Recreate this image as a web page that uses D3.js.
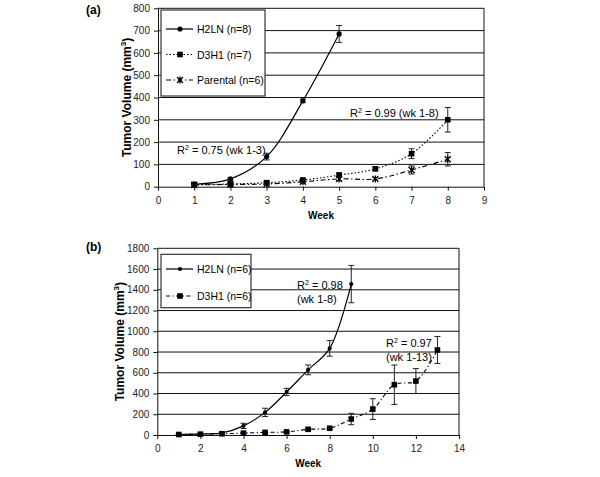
<!DOCTYPE html>
<html>
<head>
<meta charset="utf-8">
<script src="https://cdn.jsdelivr.net/npm/d3@7/dist/d3.min.js"></script>
<style>
  body { margin: 0; background: #fff; }
  svg { font-family: "Liberation Sans", Arial, sans-serif; }
  .tick text { font-size: 10px; fill: #222; }
</style>
</head>
<body>
<svg id="chart" width="600" height="477"></svg>
<script>
// panel (a)
const weeksA = [1, 2, 3, 4, 5, 6, 7, 8]
const h2lnA = [11, 35, 135, 385, 685]
const h2lnAErr = [4, 6, 15, 8, 38]
const d3h1A = [10, 12, 18, 30, 52, 80, 148, 300]
const d3h1AErr = [3, 3, 5, 6, 10, 8, 22, 55]
const parentalA = [8, 10, 12, 22, 35, 35, 75, 123]
const parentalAErr = [2, 3, 3, 4, 8, 5, 18, 30]
const yTicksA = [0, 100, 200, 300, 400, 500, 600, 700, 800]
const xTicksA = [0, 1, 2, 3, 4, 5, 6, 7, 8, 9]

// panel (b)
const weeksB = [1, 2, 3, 4, 5, 6, 7, 8, 9, 10, 11, 12, 13]
const h2lnB = [5, 10, 20, 88, 218, 415, 628, 835, 1455]
const h2lnBErr = [4, 6, 8, 25, 40, 35, 47, 75, 180]
const d3h1B = [5, 8, 12, 18, 25, 30, 55, 65, 154, 250, 485, 520, 820]
const d3h1BErr = [3, 3, 4, 4, 5, 5, 8, 8, 55, 100, 190, 120, 130]
const yTicksB = [0, 200, 400, 600, 800, 1000, 1200, 1400, 1600, 1800]
const xTicksB = [0, 2, 4, 6, 8, 10, 12, 14]

const svg = d3.select("#chart")

function star(g, x, y) {
  const s = 3
  g.append("path")
    .attr("d", `M${x - s},${y - s}L${x + s},${y + s}M${x - s},${y + s}L${x + s},${y - s}M${x},${y - s - 0.5}L${x},${y + s + 0.5}`)
    .attr("stroke", "#000").attr("stroke-width", 1.3)
}

function marker(g, kind, x, y) {
  if (kind === "circle") g.append("circle").attr("cx", x).attr("cy", y).attr("r", 2.6).attr("fill", "#000")
  else if (kind === "dot") g.append("circle").attr("cx", x).attr("cy", y).attr("r", 2.1).attr("fill", "#000")
  else if (kind === "square") g.append("rect").attr("x", x - 2.8).attr("y", y - 2.8).attr("width", 5.6).attr("height", 5.6).attr("fill", "#000")
  else if (kind === "star") star(g, x, y)
}

function panel(opt) {
  const { left, right, top, bottom, xMax, yMax, xTicks, yTicks } = opt
  const x = d3.scaleLinear().domain([0, xMax]).range([left, right])
  const y = d3.scaleLinear().domain([0, yMax]).range([bottom, top])
  const g = svg.append("g")

  // gridlines
  g.append("g").selectAll("line").data(yTicks.filter(d => d > 0)).join("line")
    .attr("x1", left).attr("x2", right)
    .attr("y1", d => y(d)).attr("y2", d => y(d))
    .attr("stroke", "#111").attr("stroke-width", 1)
  // right border
  g.append("line").attr("x1", right).attr("x2", right).attr("y1", top).attr("y2", bottom)
    .attr("stroke", "#111")

  const yAxis = g.append("g").attr("transform", `translate(${left},0)`)
    .call(d3.axisLeft(y).tickValues(yTicks).tickFormat(d3.format("d")).tickSize(4).tickPadding(4).tickSizeOuter(0))
  const xAxis = g.append("g").attr("transform", `translate(0,${bottom})`)
    .call(d3.axisBottom(x).tickValues(xTicks).tickFormat(d3.format("d")).tickSize(4).tickPadding(6).tickSizeOuter(0))
  ;[yAxis, xAxis].forEach(a => {
    a.select(".domain").attr("stroke", "#111")
    a.selectAll(".tick line").attr("stroke", "#111")
  })

  // axis titles
  const yt = g.append("text")
    .attr("transform", `translate(${opt.yTitleX},${(top + bottom) / 2}) rotate(-90)`)
    .attr("text-anchor", "middle").attr("font-size", 12).attr("font-weight", "bold")
  yt.append("tspan").text("Tumor Volume (mm")
  yt.append("tspan").text("3").attr("font-size", 8).attr("dy", -5)
  yt.append("tspan").text(")").attr("dy", 5)

  g.append("text").attr("x", (left + right) / 2).attr("y", bottom + 32)
    .attr("text-anchor", "middle").attr("font-size", 10).attr("font-weight", "bold").text("Week")

  g.append("text").attr("x", opt.tagX).attr("y", opt.tagY)
    .attr("font-size", 12).attr("font-weight", "bold").text(opt.tag)

  // series
  opt.series.forEach(s => {
    const pts = s.values.map((v, i) => [s.weeks[i], v])
    g.append("path")
      .attr("d", d3.line().x(d => x(d[0])).y(d => y(d[1])).curve(d3.curveCatmullRom.alpha(0.5))(pts))
      .attr("fill", "none").attr("stroke", "#000").attr("stroke-width", s.width || 1.1)
      .attr("stroke-dasharray", s.dash)
    const eb = g.append("g")
    pts.forEach((p, i) => {
      const e = s.err[i]
      const cx = x(p[0])
      eb.append("path")
        .attr("d", `M${cx},${y(p[1] + e)}V${y(p[1] - e)}M${cx - 3},${y(p[1] + e)}H${cx + 3}M${cx - 3},${y(p[1] - e)}H${cx + 3}`)
        .attr("stroke", "#222").attr("stroke-width", 1).attr("fill", "none")
      marker(eb, s.marker, cx, y(p[1]))
    })
  })

  // legend
  const L = opt.legend
  g.append("rect").attr("x", L.x).attr("y", L.y).attr("width", L.w).attr("height", L.h)
    .attr("fill", "#fff").attr("stroke", "#333").attr("stroke-width", 1.2)
  opt.series.forEach((s, i) => {
    const ly = L.y + L.first + i * L.step
    g.append("line").attr("x1", L.x + 5).attr("x2", L.x + 32).attr("y1", ly).attr("y2", ly)
      .attr("stroke", "#000").attr("stroke-width", s.width || 1.1).attr("stroke-dasharray", s.dash)
    marker(g, s.marker, L.x + 19, ly)
    g.append("text").attr("x", L.x + 36).attr("y", ly + 4).attr("font-size", 10.5).text(s.label)
  })

  // R² annotations
  opt.notes.forEach(n => {
    n.lines.forEach((line, j) => {
      const t = g.append("text").attr("x", n.x).attr("y", n.y + j * 14).attr("font-size", 11)
      if (j === 0) {
        t.append("tspan").text("R")
        t.append("tspan").text("2").attr("font-size", 7).attr("dy", -4)
        t.append("tspan").text(line).attr("dy", 4)
      } else t.text(line)
    })
  })
}

panel({
  left: 158, right: 484, top: 8.3, bottom: 186.7, xMax: 9, yMax: 800,
  xTicks: xTicksA, yTicks: yTicksA, yTitleX: 131, tag: "(a)", tagX: 86, tagY: 14,
  series: [
    { label: "H2LN (n=8)", weeks: weeksA, values: h2lnA, err: h2lnAErr, marker: "circle", dash: null, width: 1.2 },
    { label: "D3H1 (n=7)", weeks: weeksA, values: d3h1A, err: d3h1AErr, marker: "square", dash: "1.5,2" },
    { label: "Parental (n=6)", weeks: weeksA, values: parentalA, err: parentalAErr, marker: "star", dash: "5,2.5,1.5,2.5" }
  ],
  legend: { x: 161, y: 10, w: 104, h: 86, first: 19, step: 25.5 },
  notes: [
    { x: 177, y: 154, lines: [" = 0.75 (wk 1-3)"] },
    { x: 350, y: 117, lines: [" = 0.99 (wk 1-8)"] }
  ]
})

panel({
  left: 157.3, right: 459, top: 248.3, bottom: 435, xMax: 14, yMax: 1800,
  xTicks: xTicksB, yTicks: yTicksB, yTitleX: 124, tag: "(b)", tagX: 86, tagY: 251,
  series: [
    { label: "H2LN (n=6)", weeks: weeksB, values: h2lnB, err: h2lnBErr, marker: "dot", dash: null, width: 1.2 },
    { label: "D3H1 (n=6)", weeks: weeksB, values: d3h1B, err: d3h1BErr, marker: "square", dash: "4,2.5,1.2,2.5" }
  ],
  legend: { x: 161, y: 254.3, w: 90, h: 53.4, first: 14.7, step: 27 },
  notes: [
    { x: 297, y: 289, lines: [" = 0.98", "(wk 1-8)"] },
    { x: 386, y: 347, lines: [" = 0.97", "(wk 1-13)"] }
  ]
})
</script>
</body>
</html>
